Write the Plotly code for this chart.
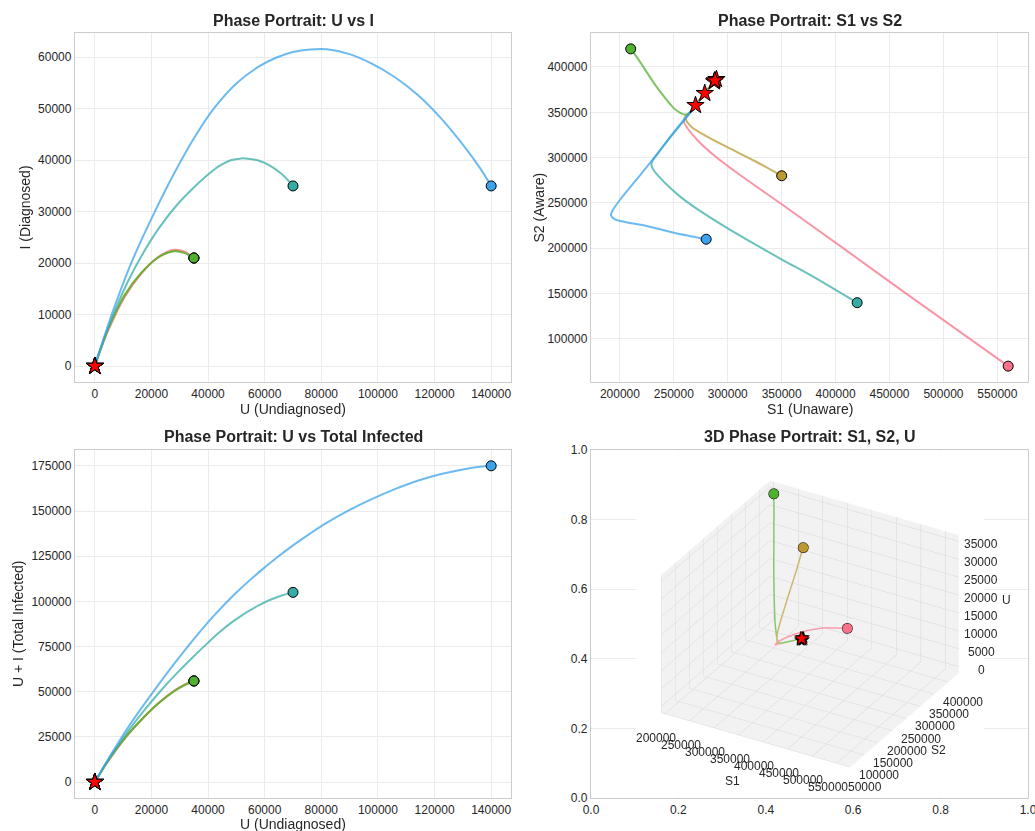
import plotly.graph_objects as go

W, H = 1035, 831

# ---------------- data ----------------
traj_names = ["pink", "gold", "green", "teal", "blue"]
traj_colors = ["#f77189", "#bb9832", "#50b131", "#36ada4", "#3ba3ec"]
line_colors = ["rgba(247,113,137,0.75)", "rgba(187,152,50,0.75)", "rgba(80,177,49,0.75)",
               "rgba(54,173,164,0.75)", "rgba(59,163,236,0.75)"]
line_colors_3d = ["#f99cac", "#cfb770", "#85c86f"]

# U (Undiagnosed) and I (Diagnosed), start -> end
pink_U = [35000, 31500, 28000, 22400, 16500, 10600, 4700, 2000, 0]
pink_I = [21000, 22300, 22600, 21200, 18000, 13500, 6900, 3100, 0]
gold_U = [35000, 31500, 28000, 22400, 16500, 10600, 4700, 2000, 0]
gold_I = [21000, 22100, 22400, 21150, 18100, 13700, 7100, 3200, 0]
green_U = [35000, 31500, 28000, 22400, 16500, 10600, 4700, 2000, 0]
green_I = [21000, 22000, 22300, 21100, 18200, 13900, 7300, 3300, 0]
teal_U = [70000, 66000, 62000, 58000, 54000, 51800, 48000, 44000, 40000, 34600, 29000, 22900, 17000, 11300, 6000, 3000, 0]
teal_I = [35000, 37300, 38900, 39900, 40300, 40350, 40000, 38900, 37200, 34500, 31300, 27000, 21900, 16000, 9300, 4900, 0]
blue_U = [140000, 136000, 130000, 122000, 114000, 106000, 98000, 90000, 82000, 76000, 70000, 64000, 58000,
          50000, 42000, 34750, 28000, 21200, 13000, 7000, 3500, 0]
blue_I = [35000, 38500, 43000, 48300, 52700, 56100, 58700, 60600, 61550, 61500, 61000, 59900, 58200,
          54900, 50000, 44000, 37400, 30000, 20200, 11600, 6000, 0]

# S1 (Unaware) and S2 (Aware), start -> end
pink_S1 = [560000, 467100, 405400, 350100, 312700, 288000, 272600, 263300, 259600, 260200, 263300, 270100, 278700, 287400]
pink_S2 = [70000, 148600, 201500, 248600, 279800, 301900, 318400, 331300, 338600, 344100, 347800, 357700, 371000, 383800]
gold_S1 = [350000, 325100, 297300, 278700, 266400, 261800, 261100, 263300, 270100, 278700, 289500]
gold_S2 = [280000, 296300, 312900, 324600, 333800, 340500, 345200, 347800, 357700, 371000, 386400]
green_S1 = [210000, 215400, 223200, 232400, 241700, 249400, 255600, 260200, 264900, 278700, 288000]
green_S2 = [420000, 411400, 397400, 380900, 366200, 355200, 349600, 347400, 349600, 371000, 385000]
teal_S1 = [420000, 380700, 349800, 318900, 297300, 275700, 257100, 244800, 237100, 231800, 229300, 230000,
           233000, 244800, 260200, 270100, 278700]
teal_S2 = [140000, 167700, 187900, 208800, 223900, 240100, 255900, 268800, 278000, 285300, 291600, 296300,
           301100, 320200, 343000, 357700, 371000]
blue_S1 = [280000, 251000, 224700, 204600, 195400, 191700, 192900, 200000, 220100, 238600, 254000, 263300, 270100]
blue_S2 = [210000, 216900, 224700, 229100, 232000, 236400, 241200, 253300, 282700, 310300, 333100, 346700, 357700]

# U along the S1/S2 samples, for the 3D view (first three trajectories)
pink_U3 = [35000, 26100, 19400, 12900, 8200, 4900, 2500, 900, 250, 150, 100, 60, 30, 0]
gold_U3 = [35000, 25700, 15600, 8800, 4000, 1500, 300, 150, 80, 30, 0]
green_U3 = [35000, 31000, 24700, 17300, 10500, 5300, 2000, 300, 150, 50, 0]

# 3D axes ranges and ticks
s1_range = [192500, 577500]
s2_range = [49000, 437500]
u_range = [-1750, 36750]
s1_ticks = [200000, 250000, 300000, 350000, 400000, 450000, 500000, 550000]
s2_ticks = [50000, 100000, 150000, 200000, 250000, 300000, 350000, 400000]
u_ticks = [0, 5000, 10000, 15000, 20000, 25000, 30000, 35000]

titles = ["Phase Portrait: U vs I", "Phase Portrait: S1 vs S2",
          "Phase Portrait: U vs Total Infected", "3D Phase Portrait: S1, S2, U"]
x_labels = ["U (Undiagnosed)", "S1 (Unaware)", "U (Undiagnosed)"]
y_labels = ["I (Diagnosed)", "S2 (Aware)", "U + I (Total Infected)"]

UI = [(pink_U, pink_I), (gold_U, gold_I), (green_U, green_I), (teal_U, teal_I), (blue_U, blue_I)]
SS = [(pink_S1, pink_S2), (gold_S1, gold_S2), (green_S1, green_S2), (teal_S1, teal_S2), (blue_S1, blue_S2)]
U3 = [pink_U3, gold_U3, green_U3]

# ---------------- figure ----------------
fig = go.Figure()
FONT = "Liberation Sans, Arial, sans-serif"
TXT = "#262626"


def px_x(p):
    return p / W


def px_y(p):
    return 1 - p / H


def add_panel(xs_list, ys_list, xa, ya, smooth):
    for k in range(5):
        fig.add_trace(go.Scatter(x=xs_list[k], y=ys_list[k], mode="lines", xaxis=xa, yaxis=ya,
                                 line=dict(color=line_colors[k], width=2, shape="spline", smoothing=smooth),
                                 hoverinfo="skip", showlegend=False))
    for k in range(5):
        fig.add_trace(go.Scatter(x=[xs_list[k][0]], y=[ys_list[k][0]], mode="markers", xaxis=xa, yaxis=ya,
                                 marker=dict(color=traj_colors[k], size=10, line=dict(color="black", width=1)),
                                 showlegend=False))
    for k in range(5):
        fig.add_trace(go.Scatter(x=[xs_list[k][-1]], y=[ys_list[k][-1]], mode="markers", xaxis=xa, yaxis=ya,
                                 marker=dict(color="red", symbol="star", size=13, line=dict(color="black", width=1)),
                                 showlegend=False))


add_panel([u for u, i in UI], [i for u, i in UI], "x", "y", 1.0)
add_panel([s1 for s1, s2 in SS], [s2 for s1, s2 in SS], "x2", "y2", 0.7)
add_panel([u for u, i in UI], [[a + b for a, b in zip(u, i)] for u, i in UI], "x3", "y3", 1.0)

# empty 2D axes behind the 3D scene
fig.add_trace(go.Scatter(x=[None], y=[None], xaxis="x4", yaxis="y4", showlegend=False, hoverinfo="skip"))

# 3D scene traces
for k in range(3):
    s1, s2 = SS[k]
    fig.add_trace(go.Scatter3d(x=s1, y=s2, z=U3[k], mode="lines",
                               line=dict(color=line_colors_3d[k], width=3), showlegend=False, scene="scene"))
for k in range(3):
    s1, s2 = SS[k]
    fig.add_trace(go.Scatter3d(x=[s1[0]], y=[s2[0]], z=[U3[k][0]], mode="markers",
                               marker=dict(color=traj_colors[k], size=6, line=dict(color="black", width=1)),
                               showlegend=False, scene="scene"))

# scene annotations: end stars, tick labels, axis titles
scene_ann = []
star_shadow = "-1px -1px 0 #000, 1px -1px 0 #000, -1px 1px 0 #000, 1px 1px 0 #000"
for k in range(3):
    s1, s2 = SS[k]
    scene_ann.append(dict(x=s1[-1], y=s2[-1], z=U3[k][-1], text="★", showarrow=False,
                          font=dict(size=17, color="red", family="DejaVu Sans", shadow=star_shadow),
                          xanchor="center", yanchor="middle"))
tf = dict(size=12, color=TXT, family=FONT)
for v in s1_ticks:
    scene_ann.append(dict(x=v, y=s2_range[0], z=u_range[0], text=str(v), showarrow=False, font=tf,
                          xanchor="center", yanchor="middle", xshift=-8, yshift=-24))
for v in s2_ticks:
    scene_ann.append(dict(x=s1_range[1], y=v, z=u_range[0], text=str(v), showarrow=False, font=tf,
                          xanchor="center", yanchor="middle", xshift=15, yshift=-20))
for v in u_ticks:
    scene_ann.append(dict(x=s1_range[1], y=s2_range[1], z=v, text=str(v), showarrow=False, font=tf,
                          xanchor="center", yanchor="middle", xshift=23, yshift=-3))
scene_ann.append(dict(x=(s1_range[0] + s1_range[1]) / 2, y=s2_range[0], z=u_range[0], text="S1", showarrow=False,
                      font=tf, xanchor="center", yanchor="middle", xshift=-23, yshift=-41))
scene_ann.append(dict(x=s1_range[1], y=(s2_range[0] + s2_range[1]) / 2, z=u_range[0], text="S2", showarrow=False,
                      font=tf, xanchor="center", yanchor="middle", xshift=35, yshift=-30))
scene_ann.append(dict(x=s1_range[1], y=s2_range[1], z=(u_range[0] + u_range[1]) / 2, text="U", showarrow=False,
                      font=tf, xanchor="center", yanchor="middle", xshift=48, yshift=4))

dom_x_left = [px_x(75), px_x(511)]
dom_x_right = [px_x(591), px_x(1028)]
dom_y_top = [px_y(382), px_y(33)]
dom_y_bot = [px_y(798), px_y(450)]


def ax(domain, rng, anchor, dtick, fmt="d"):
    return dict(domain=domain, range=rng, anchor=anchor, dtick=dtick, tickformat=fmt, automargin=False,
                showline=True, linecolor="#cccccc", linewidth=1.25, mirror=True,
                showgrid=True, gridcolor="#ebebeb", gridwidth=1, zeroline=False, ticks="",
                tickfont=dict(size=12, color=TXT, family=FONT), fixedrange=True, ticklabeloverflow="allow")


fig.update_layout(
    width=W, height=H, margin=dict(l=0, r=0, t=0, b=0, pad=0, autoexpand=False),
    paper_bgcolor="white", plot_bgcolor="white",
    font=dict(family=FONT, color=TXT),
    xaxis=ax(dom_x_left, [-7000, 147000], "y", 20000),
    yaxis=ax(dom_y_top, [-3080, 64700], "x", 10000),
    xaxis2=ax(dom_x_right, [173200, 578400], "y2", 50000),
    yaxis2=ax(dom_y_top, [52500, 437500], "x2", 50000),
    xaxis3=ax(dom_x_left, [-7000, 147000], "y3", 20000),
    yaxis3=ax(dom_y_bot, [-8750, 183750], "x3", 25000),
    xaxis4=ax(dom_x_right, [0, 1], "y4", 0.2, ".1f"),
    yaxis4=ax(dom_y_bot, [0, 1], "x4", 0.2, ".1f"),
)


def s_ax(rng, dtick):
    return dict(title=dict(text=""), range=rng, dtick=dtick, autorange=False,
                showbackground=True, backgroundcolor="rgb(242,242,242)",
                gridcolor="rgb(214,214,214)", gridwidth=1, zeroline=False, showspikes=False,
                ticks="", showticklabels=False, showline=False)


fig.update_layout(scene=dict(
    domain=dict(x=[px_x(635.5), px_x(983.5)], y=[px_y(797), px_y(451)]),
    xaxis=s_ax(s1_range, 50000),
    yaxis=s_ax(s2_range, 50000),
    zaxis=s_ax(u_range, 5000),
    aspectmode="manual", aspectratio=dict(x=1.26, y=1.26, z=0.92),
    camera=dict(eye=dict(x=0.714, y=-1.2375, z=0.825), center=dict(x=0, y=0, z=0),
                up=dict(x=0, y=0, z=1), projection=dict(type="orthographic")),
    bgcolor="white",
    annotations=scene_ann,
))

# titles and axis labels
title_pos = [((75 + 511) / 2, 20), ((591 + 1028) / 2, 20), ((75 + 511) / 2, 437), ((591 + 1028) / 2, 437)]
for t, (cx, cy) in zip(titles, title_pos):
    fig.add_annotation(text="<b>" + t + "</b>", x=px_x(cx), y=px_y(cy), xref="paper", yref="paper",
                       showarrow=False, xanchor="center", yanchor="middle",
                       font=dict(size=16, color=TXT, family=FONT))
xl_pos = [((75 + 511) / 2, 409), ((591 + 1028) / 2, 409), ((75 + 511) / 2, 824)]
for t, (cx, cy) in zip(x_labels, xl_pos):
    fig.add_annotation(text=t, x=px_x(cx), y=px_y(cy), xref="paper", yref="paper", showarrow=False,
                       xanchor="center", yanchor="middle", font=dict(size=14, color=TXT, family=FONT))
yl_pos = [(24, (33 + 382) / 2), (538, (33 + 382) / 2), (18, (450 + 798) / 2)]
for t, (cx, cy) in zip(y_labels, yl_pos):
    fig.add_annotation(text=t, x=px_x(cx), y=px_y(cy), xref="paper", yref="paper", showarrow=False,
                       xanchor="center", yanchor="middle", textangle=-90,
                       font=dict(size=14, color=TXT, family=FONT))

fig.write_html("out.html")
